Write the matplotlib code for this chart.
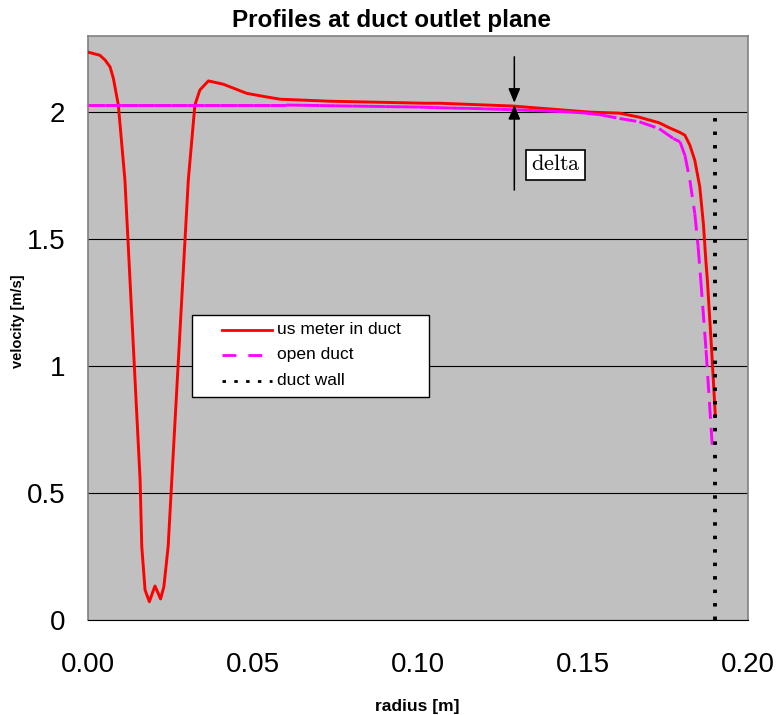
import matplotlib
matplotlib.use("Agg")
import matplotlib.pyplot as plt
from matplotlib.collections import LineCollection
from matplotlib.patches import Rectangle
import numpy as np

plt.rcParams["font.family"] = ["Liberation Sans", "DejaVu Sans"]
plt.rcParams["mathtext.fontset"] = "cm"
plt.rcParams["lines.scale_dashes"] = False

# velocity profiles
r_meter = [0.0, 0.0035, 0.0051, 0.0066, 0.0076, 0.0091, 0.0111, 0.0157,
           0.0162, 0.0172, 0.0185, 0.0202, 0.0219, 0.0229, 0.0242, 0.0253,
           0.0303, 0.0323, 0.0338, 0.0364, 0.0409, 0.048, 0.054, 0.0581,
           0.0733, 0.1022, 0.1066, 0.1287, 0.152, 0.161, 0.167, 0.173,
           0.1763, 0.1793, 0.1808, 0.1823, 0.1838, 0.1853, 0.1864, 0.1872,
           0.1876, 0.1889, 0.1900]
v_meter = [2.236, 2.224, 2.205, 2.178, 2.133, 2.028, 1.732, 0.551,
           0.29, 0.118, 0.072, 0.134, 0.083, 0.131, 0.29, 0.551,
           1.732, 2.028, 2.087, 2.123, 2.11, 2.074, 2.06, 2.051,
           2.043, 2.035, 2.035, 2.024, 2.0, 1.996, 1.98, 1.958,
           1.937, 1.92, 1.909, 1.87, 1.81, 1.706, 1.56, 1.405,
           1.339, 1.063, 0.807]

r_open = [0.0, 0.005, 0.01, 0.015, 0.02, 0.025, 0.03, 0.035, 0.04, 0.045,
          0.05, 0.055, 0.06, 0.065, 0.07, 0.075, 0.08, 0.085, 0.09, 0.095,
          0.1, 0.105, 0.11, 0.115, 0.12, 0.125, 0.13, 0.135, 0.14, 0.145,
          0.15, 0.155, 0.161, 0.167, 0.173, 0.1773, 0.1793, 0.1808, 0.1823,
          0.1838, 0.1848, 0.1856, 0.1872, 0.1892]
v_open = [2.028, 2.028, 2.028, 2.028, 2.028, 2.028, 2.028, 2.028, 2.028, 2.028,
          2.028, 2.028, 2.028, 2.027, 2.026, 2.025, 2.024, 2.023, 2.022, 2.021,
          2.02, 2.018, 2.016, 2.015, 2.013, 2.011, 2.009, 2.006, 2.004, 2.001,
          1.997, 1.99, 1.975, 1.962, 1.935, 1.896, 1.883, 1.83, 1.732,
          1.60, 1.47, 1.339, 1.063, 0.663]

r_wall = [0.19, 0.19]
v_wall = [0.0, 2.0]

labels = ["us meter in duct", "open duct", "duct wall"]
xticks = [0.0, 0.05, 0.10, 0.15, 0.20]
yticks = [0, 0.5, 1, 1.5, 2]

fig = plt.figure(figsize=(7.78, 7.15), dpi=100)
ax = fig.add_axes([0.1135, 0.1329, 0.8483, 0.8168])
ax.set_facecolor("#C0C0C0")

ax.set_xlim(0, 0.2)
ax.set_ylim(0, 2.3)
ax.set_xticks(xticks)
ax.set_xticklabels(["%.2f" % t for t in xticks])
ax.set_yticks(yticks)
ax.set_yticklabels(["%g" % t for t in yticks])
ax.tick_params(axis="x", length=0, pad=23, labelsize=20)
ax.tick_params(axis="y", length=0, pad=16.5, labelsize=20)
ax.yaxis.grid(True, color="black", lw=0.8)
ax.set_axisbelow(True)
for s in ["left", "top", "right"]:
    ax.spines[s].set_color("#808080")
    ax.spines[s].set_linewidth(1.2)
ax.spines["bottom"].set_color("black")

ax.plot(r_meter, v_meter, color="#FF0000", lw=2.1, zorder=3)

# excel restarts the dash pattern at every point, so draw segment by segment
pts = np.column_stack([r_open, v_open])
segs = np.stack([pts[:-1], pts[1:]], axis=1)
lc = LineCollection(segs, colors="#FF00FF", linewidths=2.1,
                    linestyles=[(0, (12.2, 6.5))], zorder=4)
ax.add_collection(lc)

ax.plot(r_wall, v_wall, color="black", lw=2.8,
        linestyle=(0, (2.5, 7.2)), zorder=5)

# delta marker
ax.annotate("", xy=(0.1291, 2.037), xytext=(0.1291, 2.218),
            arrowprops=dict(arrowstyle="-|>,head_length=0.86,head_width=0.36",
                            color="black", lw=1.1, shrinkA=0, shrinkB=0,
                            mutation_scale=10), zorder=6)
ax.annotate("", xy=(0.1291, 2.028), xytext=(0.1291, 1.693),
            arrowprops=dict(arrowstyle="-|>,head_length=0.86,head_width=0.36",
                            color="black", lw=1.1, shrinkA=0, shrinkB=0,
                            mutation_scale=10), zorder=6)
ax.text(0.1416, 1.792, r"$\mathrm{delta}$", fontsize=16, ha="center",
        va="center", zorder=7,
        bbox=dict(boxstyle="square,pad=0.2", fc="white", ec="black", lw=1.2))

# legend box
ax.add_patch(Rectangle((0.157, 0.382), 0.359, 0.140, transform=ax.transAxes,
                       fc="white", ec="black", lw=1, zorder=8))
rows = [0.4966, 0.4538, 0.4092]
styles = [dict(color="#FF0000", lw=2, linestyle="-"),
          dict(color="#FF00FF", lw=2, linestyle=(0, (10, 8.6))),
          dict(color="black", lw=2, linestyle=(0, (2.5, 6)))]
for yy, lab, st in zip(rows, labels, styles):
    ax.plot([0.2026, 0.2783], [yy, yy], transform=ax.transAxes, zorder=9, **st)
    ax.text(0.2859, yy, lab, transform=ax.transAxes, fontsize=12.5,
            va="center", ha="left", zorder=9)

fig.text(0.5026, 0.9618, "Profiles at duct outlet plane", fontsize=17.5,
         fontweight="bold", ha="center", va="baseline")
fig.text(0.5366, 0.0056, "radius [m]", fontsize=12.5, fontweight="bold",
         ha="center", va="baseline")
fig.text(0.0231, 0.551, "velocity [m/s]", fontsize=10.5, fontweight="bold",
         ha="center", va="center", rotation=90)

fig.savefig("out.png", dpi=100)
